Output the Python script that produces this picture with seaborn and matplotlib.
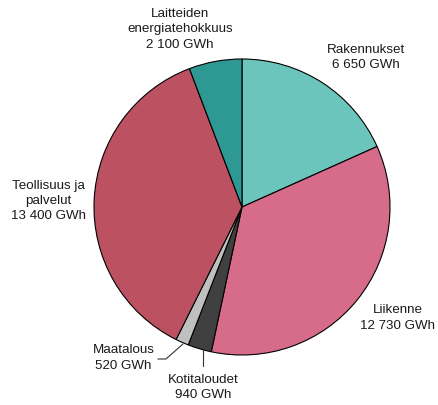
import matplotlib
matplotlib.use("Agg")
import matplotlib.pyplot as plt
import seaborn as sns

# Energy savings by sector (GWh), clockwise from the top
sectors = ['Rakennukset', 'Liikenne', 'Kotitaloudet', 'Maatalous',
           'Teollisuus ja\npalvelut', 'Laitteiden\nenergiatehokkuus']
values = [6650, 12730, 940, 520, 13400, 2100]
value_labels = ['6 650 GWh', '12 730 GWh', '940 GWh', '520 GWh', '13 400 GWh', '2 100 GWh']
colors = ['#6cc5bc', '#d76b8a', '#404040', '#c0c0c0', '#bc5161', '#2e9893']

sns.set_style('white')
plt.rcParams['font.family'] = ['Liberation Sans', 'DejaVu Sans']

fig = plt.figure(figsize=(4.39, 4.05), dpi=100)
ax = fig.add_axes([94 / 439, 50 / 405, 296 / 439, 296 / 405])

ax.pie(values, colors=colors, startangle=90, counterclock=False,
       wedgeprops=dict(edgecolor='black', linewidth=0.8))

# label positions (data coords, radius = 1)
label_pos = [(0.84, 1.01), (1.05, -0.75), (-0.26, -1.22),
             (-0.80, -1.02), (-1.31, 0.04), (-0.42, 1.20)]
for name, val, (x, y) in zip(sectors, value_labels, label_pos):
    ax.text(x, y, f'{name}\n{val}', ha='center', va='center',
            fontsize=9.6, linespacing=1.35, color='#1a1a1a')

# leader lines for the small slices
ax.plot([-0.568, -0.514, -0.399], [-1.027, -1.027, -0.926],
        color='#333333', linewidth=0.8, clip_on=False)
ax.plot([-0.264, -0.264], [-0.966, -1.077],
        color='#333333', linewidth=0.8, clip_on=False)

ax.set_xlim(-1, 1)
ax.set_ylim(-1, 1)
ax.set_aspect('equal')
ax.axis('off')

fig.savefig('out.png', dpi=100)
